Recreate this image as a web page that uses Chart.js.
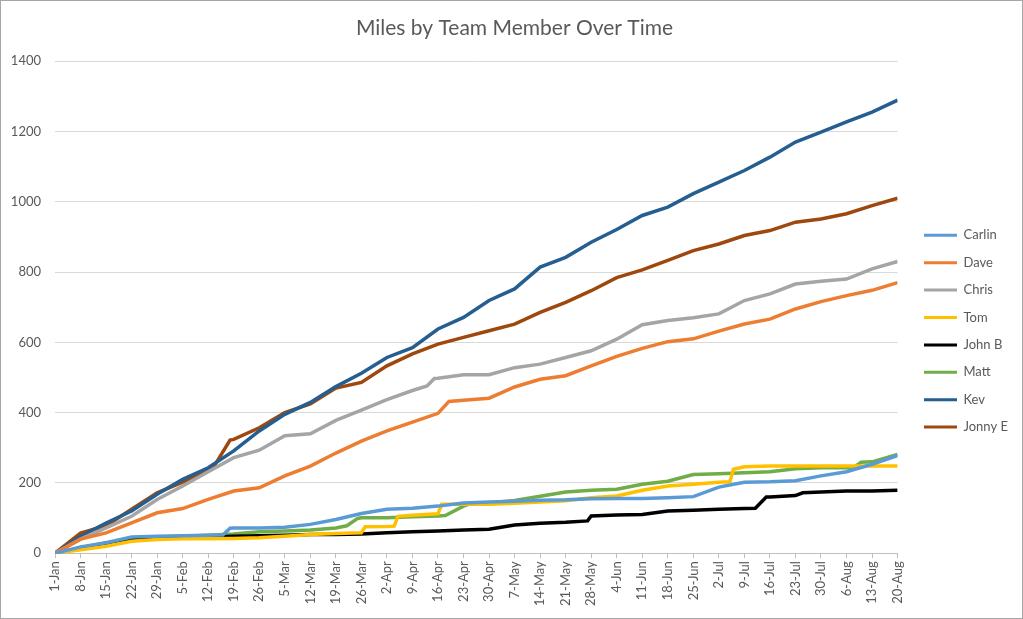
<!DOCTYPE html>
<html>
<head>
<meta charset="utf-8">
<title>Miles by Team Member Over Time</title>
<script src="https://cdn.jsdelivr.net/npm/chart.js@4.4.1/dist/chart.umd.min.js"></script>
<style>
  html, body { margin: 0; padding: 0; background: #ffffff; }
  #frame { width: 1023px; height: 619px; box-sizing: border-box; border: 1px solid #a6a6a6; }
  canvas { display: block; }
</style>
</head>
<body>
<div id="frame"><canvas id="output" width="1021" height="617"></canvas></div>
<script>
// x axis: day index from 1-Jan, one tick label per week
const tickLabels = ['1-Jan', '8-Jan', '15-Jan', '22-Jan', '29-Jan', '5-Feb', '12-Feb', '19-Feb', '26-Feb',
    '5-Mar', '12-Mar', '19-Mar', '26-Mar', '2-Apr', '9-Apr', '16-Apr', '23-Apr', '30-Apr', '7-May',
    '14-May', '21-May', '28-May', '4-Jun', '11-Jun', '18-Jun', '25-Jun', '2-Jul', '9-Jul', '16-Jul',
    '23-Jul', '30-Jul', '6-Aug', '13-Aug', '20-Aug'];

const weekDays = [0, 7, 14, 21, 28, 35, 42, 49, 56, 63, 70, 77, 84, 91, 98, 105, 112, 119, 126,
    133, 140, 147, 154, 161, 168, 175, 182, 189, 196, 203, 210, 217, 224, 231];

// cumulative miles
const carlinDays = [0, 7, 14, 21, 28, 35, 42, 46, 48, 49, 56, 63, 70, 77, 84, 91, 98, 105, 112, 119, 126,
    133, 140, 147, 154, 161, 168, 175, 182, 189, 196, 203, 210, 217, 224, 231];
const carlinMiles = [0, 18, 30, 46, 48, 50, 51, 52, 71, 72, 72, 74, 82, 96, 113, 125, 128, 134, 143, 146, 148,
    151, 152, 155, 156, 156, 158, 161, 188, 202, 203, 206, 220, 232, 253, 278];

const daveDays = [0, 7, 14, 21, 28, 35, 42, 49, 56, 63, 70, 77, 84, 91, 98, 105, 108, 112, 119, 126,
    133, 140, 147, 154, 161, 168, 175, 182, 189, 196, 203, 210, 217, 224, 231];
const daveMiles = [0, 40, 58, 86, 115, 127, 153, 177, 186, 220, 248, 285, 319, 348, 373, 398, 432, 435, 441, 473,
    495, 505, 533, 560, 583, 602, 610, 632, 652, 666, 695, 716, 733, 748, 770];

const chrisDays = [0, 7, 14, 21, 28, 35, 42, 49, 56, 63, 70, 77, 84, 91, 98, 102, 104, 105, 112, 119, 126,
    133, 140, 147, 154, 161, 168, 175, 182, 189, 196, 203, 210, 217, 224, 231];
const chrisMiles = [0, 40, 72, 105, 153, 191, 232, 272, 293, 334, 340, 378, 407, 437, 463, 476, 497, 498, 508, 508, 528,
    538, 557, 576, 609, 650, 662, 670, 681, 719, 738, 766, 774, 780, 809, 830];

const tomDays = [0, 7, 14, 21, 28, 35, 42, 49, 56, 63, 70, 77, 84, 85, 91, 93, 94, 98, 105, 106, 112, 119, 126,
    133, 140, 147, 154, 161, 168, 175, 182, 185, 186, 189, 196, 203, 210, 217, 224, 231];
const tomMiles = [0, 10, 20, 34, 39, 41, 41, 42, 44, 48, 53, 56, 58, 75, 76, 77, 105, 108, 112, 139, 139, 139, 142,
    146, 149, 158, 163, 179, 191, 196, 202, 203, 239, 246, 248, 248, 248, 248, 248, 248];

const johnBDays = [0, 7, 14, 21, 28, 35, 42, 49, 56, 63, 70, 77, 84, 91, 98, 105, 112, 119, 126,
    133, 140, 146, 147, 154, 161, 168, 175, 182, 189, 192, 195, 196, 203, 205, 210, 217, 224, 231];
const johnBMiles = [0, 15, 29, 39, 44, 46, 46, 48, 50, 51, 53, 53, 55, 58, 61, 63, 66, 68, 80,
    85, 88, 92, 106, 109, 110, 120, 122, 125, 127, 128, 160, 160, 164, 172, 174, 177, 177, 179];

const mattDays = [0, 7, 14, 21, 28, 35, 42, 49, 56, 63, 70, 77, 80, 83, 84, 91, 98, 105, 107, 112, 114, 119, 126,
    133, 140, 147, 154, 161, 168, 175, 182, 189, 196, 203, 210, 217, 219, 221, 224, 231];
const mattMiles = [0, 15, 25, 36, 46, 48, 51, 55, 61, 63, 66, 72, 78, 99, 101, 101, 104, 106, 107, 134, 141, 143, 150,
    162, 174, 179, 182, 196, 205, 224, 226, 229, 232, 240, 243, 243, 244, 259, 260, 281];

const kevMiles = [0, 48, 86, 120, 168, 210, 243, 291, 348, 395, 429, 474, 512, 557, 585, 638, 671, 719, 752,
    814, 842, 885, 921, 961, 985, 1023, 1056, 1089, 1127, 1170, 1198, 1227, 1255, 1289];

const jonnyEDays = [0, 7, 14, 21, 28, 35, 42, 44, 48, 49, 56, 63, 70, 77, 84, 91, 98, 105, 112, 119, 126,
    133, 140, 147, 154, 161, 168, 175, 182, 189, 196, 203, 210, 217, 224, 231];
const jonnyEMiles = [0, 57, 78, 125, 172, 202, 234, 254, 322, 324, 357, 400, 425, 470, 486, 533, 567, 595, 614, 633, 652,
    685, 714, 747, 784, 806, 833, 861, 880, 904, 918, 942, 951, 966, 989, 1010];

const textColor = '#595959';

function toPoints(days, miles) {
    return days.map((d, i) => ({ x: d, y: miles[i] }));
}

function series(label, days, miles, color) {
    return {
        label: label,
        data: toPoints(days, miles),
        borderColor: color,
        backgroundColor: color,
        borderWidth: 3.5,
        pointRadius: 0,
        tension: 0,
        yAxisID: 'y'
    };
}

const ctx = document.getElementById('output').getContext('2d');

new Chart(ctx, {
    type: 'line',
    data: {
        datasets: [
            series('Carlin', carlinDays, carlinMiles, '#5B9BD5'),
            series('Dave', daveDays, daveMiles, '#ED7D31'),
            series('Chris', chrisDays, chrisMiles, '#A5A5A5'),
            series('Tom', tomDays, tomMiles, '#FFC000'),
            series('John B', johnBDays, johnBMiles, '#000000'),
            series('Matt', mattDays, mattMiles, '#70AD47'),
            series('Kev', weekDays, kevMiles, '#255E91'),
            series('Jonny E', jonnyEDays, jonnyEMiles, '#9E480E')
        ]
    },
    options: {
        responsive: false,
        animation: false,
        devicePixelRatio: 1,
        layout: { padding: { left: 10, right: 4, top: 0, bottom: 9 } },
        plugins: {
            title: {
                display: true,
                text: 'Miles by Team Member Over Time',
                color: textColor,
                font: { family: 'Lato', size: 21, weight: 'normal' },
                padding: { top: 15, bottom: 20 }
            },
            legend: {
                position: 'right',
                // empty title only pushes the entries down to where they sit in the original
                title: { display: true, text: ' ', font: { size: 12 }, padding: { top: 0, bottom: 38 } },
                labels: {
                    color: textColor,
                    font: { family: 'Lato', size: 13 },
                    boxWidth: 33,
                    boxHeight: 3,
                    padding: 14.4,
                    generateLabels(chart) {
                        const items = Chart.defaults.plugins.legend.labels.generateLabels(chart);
                        items.forEach(item => { item.lineWidth = 0; });
                        return items;
                    }
                }
            },
            tooltip: { enabled: false }
        },
        scales: {
            x: {
                type: 'linear',
                min: 0,
                max: 231,
                ticks: {
                    stepSize: 7,
                    autoSkip: false,
                    maxRotation: 90,
                    minRotation: 90,
                    padding: 3,
                    color: textColor,
                    font: { family: 'Lato', size: 13 },
                    callback: value => tickLabels[value / 7]
                },
                grid: { drawOnChartArea: false, drawTicks: true, tickLength: 5, color: '#bfbfbf' },
                border: { display: true, color: '#bfbfbf' },
                afterFit: scale => { scale.paddingLeft = 0; scale.paddingRight = 0; }
            },
            y: {
                min: 0,
                max: 1400,
                ticks: {
                    stepSize: 200,
                    padding: 14,
                    color: textColor,
                    font: { family: 'Lato', size: 13 },
                    callback: value => String(value)
                },
                grid: { color: '#d9d9d9', drawTicks: false },
                border: { display: false },
                afterFit: scale => { scale.width = 44; }
            },
            // blank spacer between the plot and the legend
            gap: {
                position: 'right',
                ticks: { display: false },
                grid: { display: false },
                border: { display: false },
                afterFit: scale => { scale.width = 12; }
            }
        }
    }
});
</script>
</body>
</html>
